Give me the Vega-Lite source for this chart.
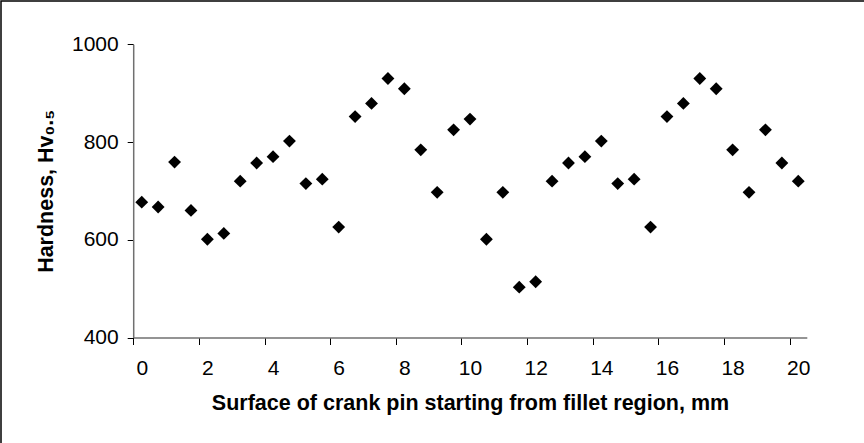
{
  "$schema": "https://vega.github.io/schema/vega-lite/v6.json",
  "width": 870,
  "height": 450,
  "autosize": {"type": "none"},
  "padding": {"left": 1, "top": 1, "right": 0, "bottom": 0},
  "background": "white",
  "config": {
    "view": {"stroke": "#000000", "strokeWidth": 1.5},
    "font": "Liberation Sans"
  },
  "data": {
    "values": [
      {"surface_mm": 0, "hardness_hv": 677},
      {"surface_mm": 0.5, "hardness_hv": 667},
      {"surface_mm": 1, "hardness_hv": 759},
      {"surface_mm": 1.5, "hardness_hv": 660},
      {"surface_mm": 2, "hardness_hv": 601},
      {"surface_mm": 2.5, "hardness_hv": 613},
      {"surface_mm": 3, "hardness_hv": 720},
      {"surface_mm": 3.5, "hardness_hv": 757},
      {"surface_mm": 4, "hardness_hv": 770},
      {"surface_mm": 4.5, "hardness_hv": 802},
      {"surface_mm": 5, "hardness_hv": 715},
      {"surface_mm": 5.5, "hardness_hv": 724},
      {"surface_mm": 6, "hardness_hv": 626},
      {"surface_mm": 6.5, "hardness_hv": 852},
      {"surface_mm": 7, "hardness_hv": 879},
      {"surface_mm": 7.5, "hardness_hv": 930},
      {"surface_mm": 8, "hardness_hv": 909},
      {"surface_mm": 8.5, "hardness_hv": 784},
      {"surface_mm": 9, "hardness_hv": 697},
      {"surface_mm": 9.5, "hardness_hv": 825},
      {"surface_mm": 10, "hardness_hv": 847},
      {"surface_mm": 10.5, "hardness_hv": 601},
      {"surface_mm": 11, "hardness_hv": 697},
      {"surface_mm": 11.5, "hardness_hv": 503},
      {"surface_mm": 12, "hardness_hv": 514},
      {"surface_mm": 12.5, "hardness_hv": 720},
      {"surface_mm": 13, "hardness_hv": 757},
      {"surface_mm": 13.5, "hardness_hv": 770},
      {"surface_mm": 14, "hardness_hv": 802},
      {"surface_mm": 14.5, "hardness_hv": 715},
      {"surface_mm": 15, "hardness_hv": 724},
      {"surface_mm": 15.5, "hardness_hv": 626},
      {"surface_mm": 16, "hardness_hv": 852},
      {"surface_mm": 16.5, "hardness_hv": 879},
      {"surface_mm": 17, "hardness_hv": 930},
      {"surface_mm": 17.5, "hardness_hv": 909},
      {"surface_mm": 18, "hardness_hv": 784},
      {"surface_mm": 18.5, "hardness_hv": 697},
      {"surface_mm": 19, "hardness_hv": 825},
      {"surface_mm": 19.5, "hardness_hv": 757},
      {"surface_mm": 20, "hardness_hv": 720}
    ]
  },
  "mark": {"type": "point", "shape": "diamond", "filled": true, "color": "#000000", "opacity": 1, "size": 165},
  "encoding": {
    "x": {
      "field": "surface_mm",
      "type": "quantitative",
      "scale": {"domain": [-0.26, 20.26], "range": [132.2, 805.8], "nice": false, "zero": false},
      "axis": {
        "orient": "bottom",
        "offset": -113.5,
        "values": [0, 2, 4, 6, 8, 10, 12, 14, 16, 18, 20],
        "format": "d",
        "tickOffset": -8.5,
        "labelOffset": 8.5,
        "tickSize": 7,
        "tickColor": "#000000",
        "tickWidth": 1,
        "domainColor": "#707070",
        "domainWidth": 1.5,
        "grid": false,
        "labelFontSize": 21,
        "labelColor": "#000000",
        "labelPadding": 13,
        "labelFlush": false,
        "labelOverlap": false,
        "labelBound": false,
        "title": "Surface of crank pin starting from fillet region, mm",
        "titleFontSize": 21.5,
        "titleFontWeight": "bold",
        "titleColor": "#000000",
        "titlePadding": 14,
        "encode": {"ticks": {"update": {"y": {"value": -7}}}}
      }
    },
    "y": {
      "field": "hardness_hv",
      "type": "quantitative",
      "scale": {"domain": [400, 1000], "range": [336.5, 43.3], "nice": false, "zero": false},
      "axis": {
        "orient": "left",
        "offset": -132.2,
        "values": [400, 600, 800, 1000],
        "format": "d",
        "tickSize": 6,
        "tickColor": "#000000",
        "tickWidth": 1,
        "domainColor": "#707070",
        "domainWidth": 1.5,
        "grid": false,
        "labelFontSize": 21,
        "labelColor": "#000000",
        "labelPadding": 9,
        "labelFlush": false,
        "labelOverlap": false,
        "labelBound": false,
        "title": "Hardness, Hv₀.₅",
        "titleFontSize": 21.5,
        "titleFontWeight": "bold",
        "titleColor": "#000000",
        "titlePadding": 14
      }
    }
  }
}
